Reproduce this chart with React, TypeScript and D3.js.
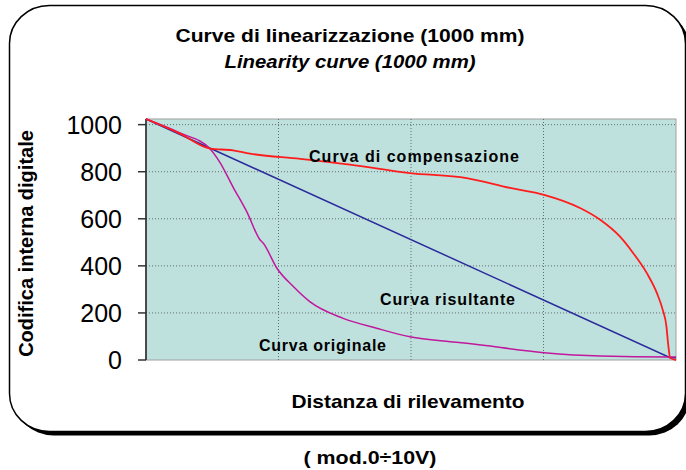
import * as d3 from "d3";

const WIDTH = 686;
const HEIGHT = 470;
const PLOT = { left: 146, right: 676, top: 119, bottom: 360 };

// distanza (mm) -> codifica interna (0..1024)
const curvaOriginale: [number, number][] = [
  [0, 1024], [64, 965], [121, 897], [140, 838], [164, 736], [191, 626],
  [215, 511], [221, 497], [247, 390], [278, 312], [309, 248], [372, 177],
  [435, 135], [498, 99], [574, 78], [605, 71], [751, 31], [857, 17],
  [989, 13], [1000, 13],
];

const curvaCompensazione: [number, number][] = [
  [0, 1024], [64, 962], [121, 898], [164, 891], [196, 877], [291, 855],
  [385, 830], [498, 794], [605, 773], [687, 731], [751, 702], [819, 646],
  [857, 596], [894, 525], [919, 455], [945, 369], [964, 284], [975, 213],
  [982, 142], [985, 72], [989, 9], [1000, 0],
];

const curvaRisultante: [number, number][] = [
  [0, 1024], [989, 10], [1000, 10],
];

const yTicks = [0, 200, 400, 600, 800, 1000];
const xGrid = [250, 500, 750];

const FONT = "'Liberation Sans', Arial, sans-serif";

export default function App() {
  const x = d3.scaleLinear().domain([0, 1000]).range([PLOT.left, PLOT.right]);
  const y = d3.scaleLinear().domain([0, 1024]).range([PLOT.bottom, PLOT.top]);

  const line = d3
    .line<[number, number]>()
    .x((d) => x(d[0]))
    .y((d) => y(d[1]));

  const smooth = d3
    .line<[number, number]>()
    .x((d) => x(d[0]))
    .y((d) => y(d[1]))
    .curve(d3.curveMonotoneX);

  return (
    <svg
      width={WIDTH}
      height={HEIGHT}
      style={{ position: "absolute", left: 0, top: 0, background: "#fff" }}
      fontFamily={FONT}
    >
      {/* frame with shadow */}
      <rect x={13.5} y={9.5} width={676} height={426} rx={40} ry={38} fill="#000" />
      <rect
        x={9.5}
        y={5.5}
        width={676}
        height={426}
        rx={40}
        ry={38}
        fill="#fff"
        stroke="#000"
        strokeWidth={1.5}
      />

      {/* titles */}
      <text x={350} y={42} textAnchor="middle" fontWeight="bold" fontSize={18.5} textLength={349} lengthAdjust="spacingAndGlyphs">
        Curve di linearizzazione (1000 mm)
      </text>
      <text x={350} y={68} textAnchor="middle" fontWeight="bold" fontStyle="italic" fontSize={18.5} textLength={251} lengthAdjust="spacingAndGlyphs">
        Linearity curve (1000 mm)
      </text>

      {/* plot area */}
      <rect
        x={PLOT.left}
        y={PLOT.top}
        width={PLOT.right - PLOT.left}
        height={PLOT.bottom - PLOT.top}
        fill="#bfe1de"
        stroke="#a0a0a0"
        strokeWidth={1}
      />

      {/* grid */}
      {yTicks.filter((t) => t > 0).map((t) => (
        <line
          key={"h" + t}
          x1={PLOT.left}
          x2={PLOT.right}
          y1={y(t)}
          y2={y(t)}
          stroke="#5f6f6f"
          strokeWidth={1}
          strokeDasharray="1 2"
        />
      ))}
      {xGrid.map((g) => (
        <line
          key={"v" + g}
          x1={x(g)}
          x2={x(g)}
          y1={PLOT.top}
          y2={PLOT.bottom}
          stroke="#5f6f6f"
          strokeWidth={1}
          strokeDasharray="1 2"
        />
      ))}

      {/* y axis */}
      <line x1={PLOT.left} x2={PLOT.left} y1={PLOT.top} y2={PLOT.bottom} stroke="#222" strokeWidth={1.5} />
      {yTicks.map((t) => (
        <g key={"t" + t}>
          <line x1={PLOT.left - 8} x2={PLOT.left} y1={y(t)} y2={y(t)} stroke="#333" strokeWidth={1.5} />
          <text x={122} y={y(t) + 9} textAnchor="end" fontSize={25}>
            {t}
          </text>
        </g>
      ))}

      {/* curves */}
      <path d={line(curvaRisultante) ?? ""} fill="none" stroke="#2b2b9c" strokeWidth={1.5} />
      <path d={smooth(curvaOriginale) ?? ""} fill="none" stroke="#c0189c" strokeWidth={1.5} />
      <path d={smooth(curvaCompensazione) ?? ""} fill="none" stroke="#ff1c1c" strokeWidth={1.8} />

      {/* curve labels */}
      <text x={309} y={162} fontWeight="bold" fontSize={16} textLength={210} lengthAdjust="spacing">
        Curva di compensazione
      </text>
      <text x={380} y={305} fontWeight="bold" fontSize={16} textLength={135} lengthAdjust="spacing">
        Curva risultante
      </text>
      <text x={259} y={350.5} fontWeight="bold" fontSize={16} textLength={127} lengthAdjust="spacing">
        Curva originale
      </text>

      {/* axis titles */}
      <text
        transform="translate(33,243.5) rotate(-90)"
        textAnchor="middle"
        fontWeight="bold"
        fontSize={20}
      >
        Codifica interna digitale
      </text>
      <text x={408} y={408} textAnchor="middle" fontWeight="bold" fontSize={18.5} textLength={233} lengthAdjust="spacingAndGlyphs">
        Distanza di rilevamento
      </text>

      <text x={370} y={464} textAnchor="middle" fontWeight="bold" fontSize={18.5} textLength={133} lengthAdjust="spacingAndGlyphs">
        ( mod.0÷10V)
      </text>
    </svg>
  );
}
